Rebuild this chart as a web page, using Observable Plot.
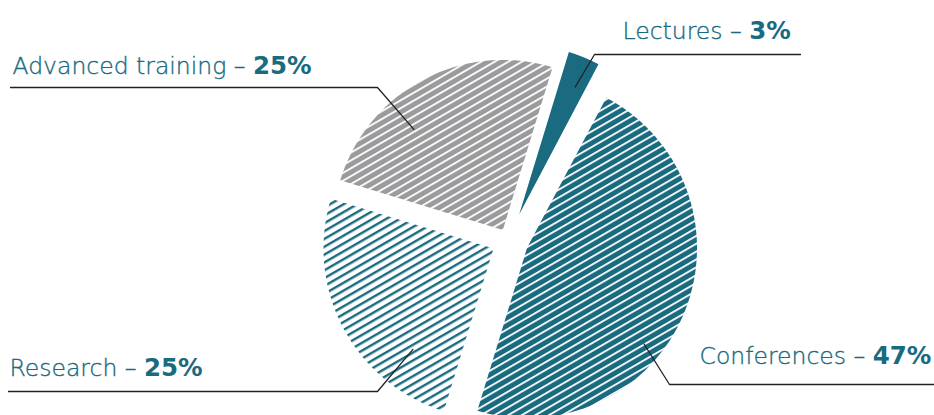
<!DOCTYPE html>
<html><head><meta charset="utf-8">
<script src="https://cdn.jsdelivr.net/npm/d3@7"></script>
<script src="https://cdn.jsdelivr.net/npm/@observablehq/plot@0.6"></script>
<style>
html,body{margin:0;padding:0;background:#fff;overflow:hidden}
</style></head><body><div id="chart"></div>
<script>
// ---- data ----
const categories = ["Lectures", "Conferences", "Research", "Advanced training"];
const shares = [3, 47, 25, 25];
const percentLabels = ["3%", "47%", "25%", "25%"];

// ---- layout (pixels) ----
const W = 934, H = 415;
const center = [508, 240], radius = 170, startDeg = 17;
const explode = [28, 20, 17, 12];
const fills = ["#1a6a80", "url(#hatchConf)", "url(#hatchRes)", "url(#hatchAdv)"];
const leaderAnchor = [[0.62, 0.82], [0.6, 0.89], [0.24, 0.76], [0.35, 0.79]];
const leaderElbow = [[594, 54], [669, 384], [377, 391], [377, 87]];
const leaderEnd = [[800, 54], [934, 384], [8, 391], [10, 87]];
const labelPos = [[622, 38.5], [699, 363], [9, 375], [12, 73.5]];
const teal = "#1a6a80", grey = "#9b9b9d";

const pie = d3.pie().sort(null)
  .startAngle(startDeg * Math.PI / 180)
  .endAngle(startDeg * Math.PI / 180 + 2 * Math.PI)(shares);

const slices = pie.map((a, i) => {
  const mid = (a.startAngle + a.endAngle) / 2;
  const ax = center[0] + explode[i] * Math.sin(mid);
  const ay = center[1] - explode[i] * Math.cos(mid);
  const pts = [{x: ax, y: ay}];
  const n = 120;
  for (let k = 0; k <= n; k++) {
    const t = a.startAngle + (a.endAngle - a.startAngle) * k / n;
    pts.push({x: ax + radius * Math.sin(t), y: ay - radius * Math.cos(t)});
  }
  pts.push({x: ax, y: ay});
  const [ft, fr] = leaderAnchor[i];
  const at = a.startAngle + (a.endAngle - a.startAngle) * ft;
  const anchor = {x: ax + fr * radius * Math.sin(at), y: ay - fr * radius * Math.cos(at)};
  return {name: categories[i], pts, anchor, fill: fills[i]};
});

const leaders = slices.flatMap((s, i) => [
  {i, x: s.anchor.x, y: s.anchor.y},
  {i, x: leaderElbow[i][0], y: leaderElbow[i][1]},
  {i, x: leaderEnd[i][0], y: leaderEnd[i][1]}
]);

const labels = categories.map((c, i) => ({i, name: c, pct: percentLabels[i], x: labelPos[i][0], y: labelPos[i][1]}));

const svg = Plot.plot({
  width: W, height: H,
  margin: 0,
  x: {domain: [0, W], range: [0, W], axis: null},
  y: {domain: [0, H], range: [0, H], axis: null},
  style: {background: "#fff", overflow: "hidden"},
  marks: [
    ...slices.map(s => Plot.line(s.pts, {x: "x", y: "y", fill: s.fill, stroke: "none"})),
    Plot.line(leaders, {x: "x", y: "y", z: "i", stroke: "#222", strokeWidth: 1.3}),
    Plot.text(labels, {x: "x", y: "y", text: d => `${d.name} – ${d.pct}`, textAnchor: "start", lineAnchor: "bottom",
      fill: teal, fontSize: 23.5, fontFamily: "DejaVu Sans", fontWeight: 200})
  ]
});

const defs = `
<pattern id="hatchConf" patternUnits="userSpaceOnUse" width="10" height="6.8" patternTransform="rotate(-30)">
  <rect width="10" height="6.8" fill="${teal}"/><rect y="0" width="10" height="1.8" fill="#fff"/>
</pattern>
<pattern id="hatchRes" patternUnits="userSpaceOnUse" width="10" height="6.8" patternTransform="rotate(-30)">
  <rect width="10" height="6.8" fill="#fff"/><rect y="0" width="10" height="2.4" fill="${teal}"/>
</pattern>
<pattern id="hatchAdv" patternUnits="userSpaceOnUse" width="10" height="6.8" patternTransform="rotate(-30)">
  <rect width="10" height="6.8" fill="${grey}"/><rect y="0" width="10" height="1.8" fill="#fff"/>
</pattern>`;
const d = document.createElementNS("http://www.w3.org/2000/svg", "defs");
d.innerHTML = defs;
svg.insertBefore(d, svg.firstChild);

d3.select(svg).selectAll('g[aria-label="text"] text').each(function() {
  const i = d3.select(this).datum();
  const lab = labels[i];
  const t = d3.select(this);
  t.text(null);
  t.append("tspan").attr("font-weight", 200).attr("stroke", teal).attr("stroke-width", 0.35).text(`${lab.name} – `);
  t.append("tspan").attr("font-weight", 700).attr("font-size", 24.5).text(lab.pct);
});

document.getElementById("chart").appendChild(svg);
</script></body></html>
